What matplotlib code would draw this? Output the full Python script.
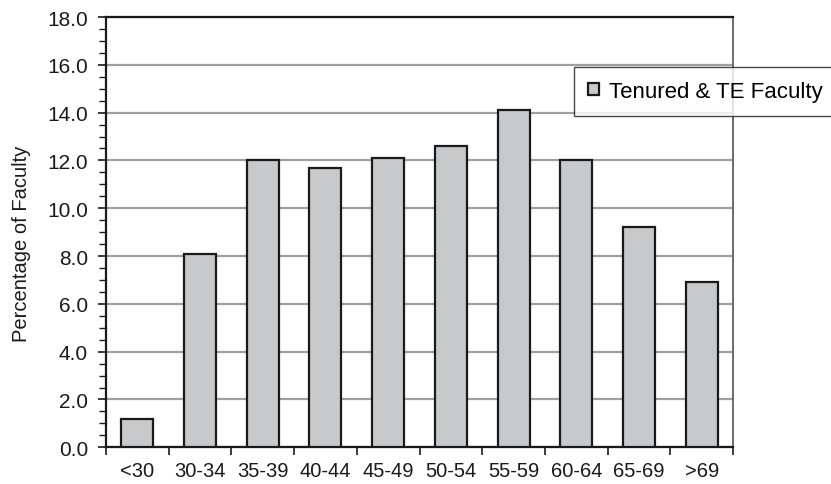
import matplotlib.pyplot as plt
import numpy as np

# age groups and share of tenured / tenure-eligible faculty (%)
age_groups = ['<30', '30-34', '35-39', '40-44', '45-49', '50-54', '55-59', '60-64', '65-69', '>69']
pct_faculty = [1.2, 8.1, 12.0, 11.7, 12.1, 12.6, 14.1, 12.0, 9.2, 6.9]
y_ticks = [0.0, 2.0, 4.0, 6.0, 8.0, 10.0, 12.0, 14.0, 16.0, 18.0]

plt.rcParams['font.family'] = ['Liberation Sans', 'DejaVu Sans']

fig = plt.figure(figsize=(8.31, 4.85), dpi=100)
ax = fig.add_axes([106 / 831, 1 - 448.3 / 485, (733 - 106) / 831, (448.3 - 18) / 485])

x = np.arange(len(age_groups))
ax.bar(x, pct_faculty, width=0.51, color='#c8c9cb', edgecolor='#1a1a1a',
       linewidth=1.6, label='Tenured & TE Faculty', zorder=3)

ax.set_xlim(-0.5, len(age_groups) - 0.5)
ax.set_ylim(0, 18)
ax.set_yticks(y_ticks)
ax.set_yticklabels([f'{v:.1f}' for v in y_ticks], fontsize=15, color='#1a1a1a')
ax.set_yticks(np.arange(0, 18.01, 0.5), minor=True)

# category labels centred, ticks on category boundaries
ax.set_xticks(x)
ax.set_xticklabels(age_groups, fontsize=14.5, color='#1a1a1a')
ax.tick_params(axis='x', which='major', length=0, pad=10)
ax.set_xticks(np.arange(-0.5, len(age_groups), 1.0), minor=True)
ax.tick_params(axis='x', which='minor', length=6, width=1.2, direction='out', color='#1a1a1a')
ax.tick_params(axis='y', which='major', length=6, width=1.2, color='#1a1a1a', pad=7)
ax.tick_params(axis='y', which='minor', length=5, width=1.0, color='#1a1a1a')

ax.yaxis.grid(True, which='major', color='#a0a0a0', linewidth=1.6, zorder=0)
ax.set_axisbelow(True)

for side in ['left', 'bottom', 'top']:
    ax.spines[side].set_color('#1a1a1a')
    ax.spines[side].set_linewidth(1.6)
ax.spines['right'].set_color('#555555')
ax.spines['right'].set_linewidth(1.2)

ax.set_ylabel('Percentage of Faculty', fontsize=14.5, color='#1a1a1a')
ax.yaxis.set_label_coords(-75 / 627, 0.475)

leg = ax.legend(loc='upper left', bbox_to_anchor=(574 / 831, 1 - 68 / 485),
                bbox_transform=fig.transFigure, fontsize=16, frameon=True,
                fancybox=False, edgecolor='#1a1a1a', handlelength=0.5,
                handleheight=0.5, handletextpad=0.45, borderpad=0.62,
                borderaxespad=0)
leg.get_frame().set_linewidth(1.0)

fig.savefig('out.png', dpi=100)
